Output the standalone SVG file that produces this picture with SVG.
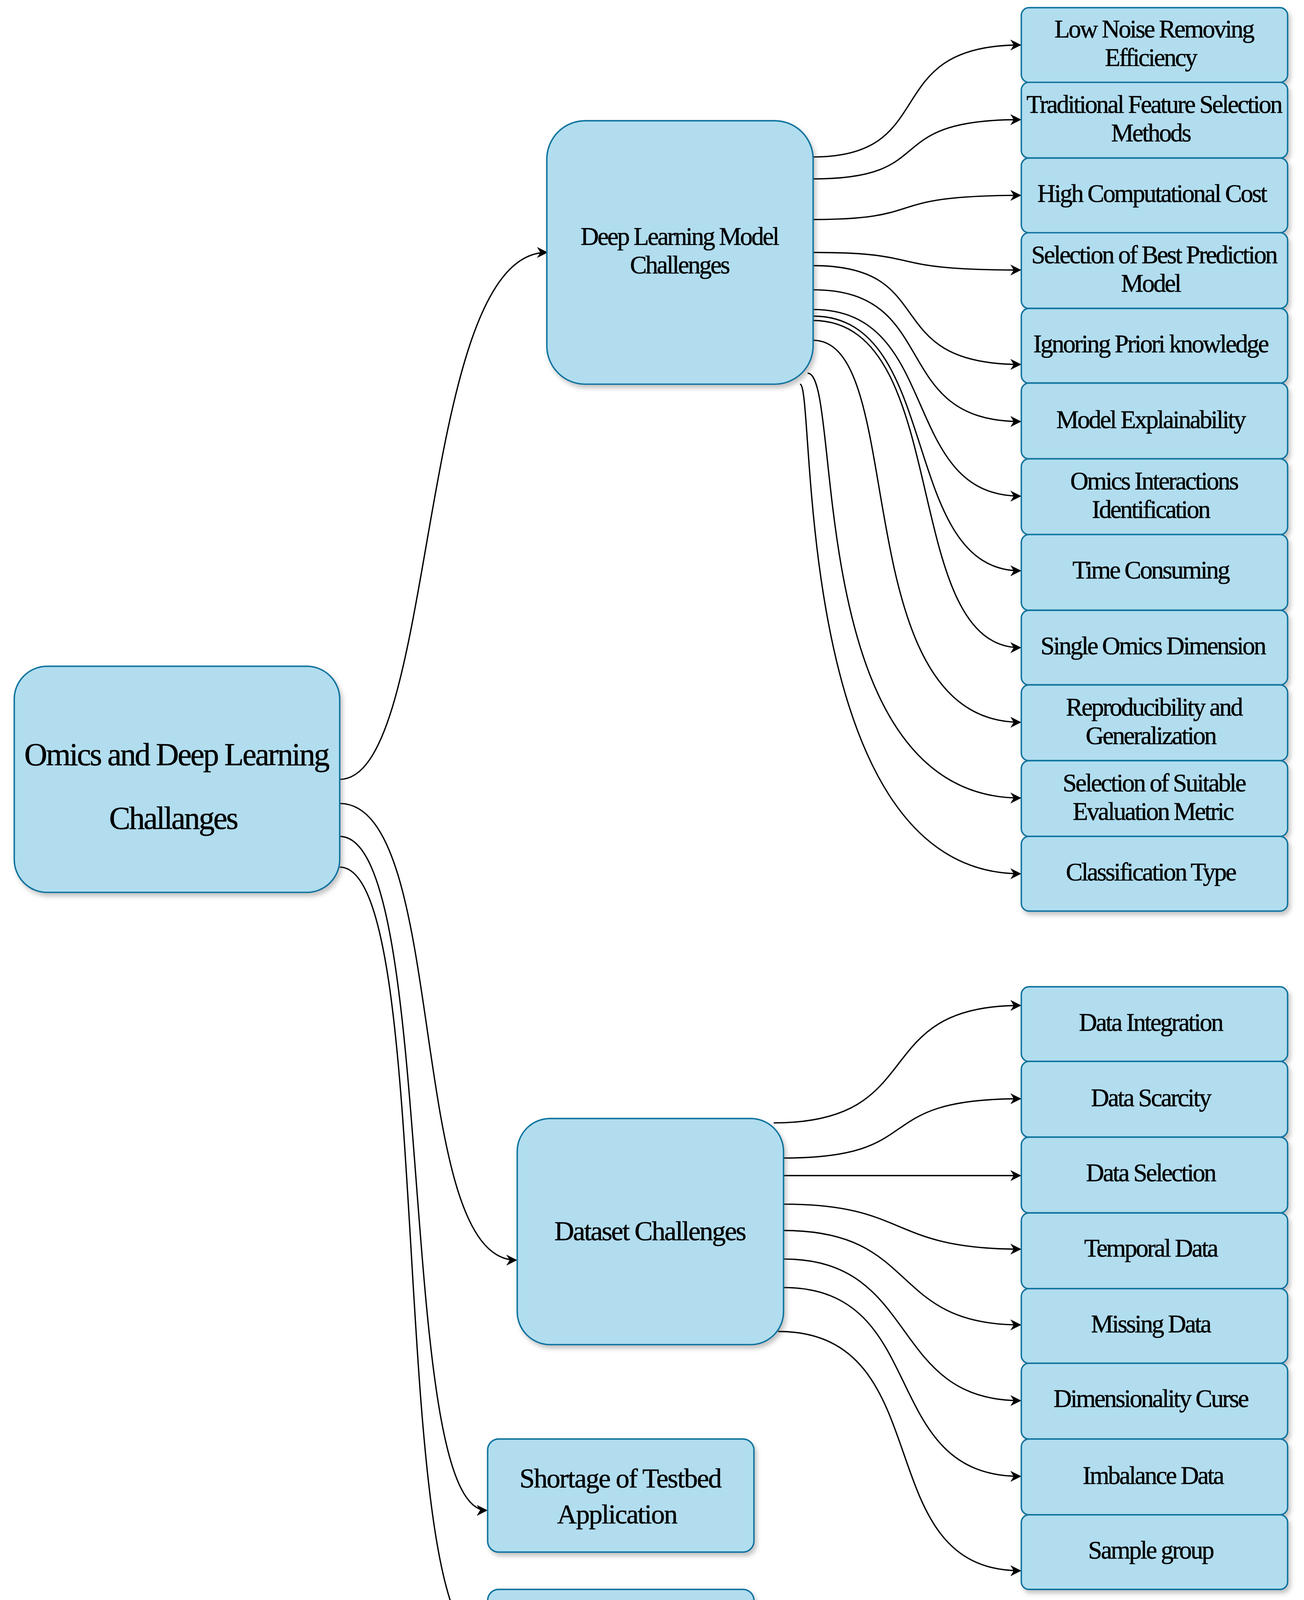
<svg xmlns="http://www.w3.org/2000/svg" width="3339" height="4397" viewBox="0 0 3339 4397">
<style>
.b{fill:#b1ddef;stroke:#10739e;stroke-width:1.3;filter:url(#sh)}
.t{font-family:"Liberation Serif",serif;fill:#000;stroke:#000;stroke-width:0.25;text-anchor:middle;letter-spacing:-1.2px;font-size:23px}
.c{fill:none;stroke:#000;stroke-width:1.2;marker-end:url(#a)}
</style>
<defs>
<filter id="sh" x="-10%" y="-10%" width="130%" height="130%"><feDropShadow dx="2" dy="3" stdDeviation="2" flood-color="#555" flood-opacity="0.35"/></filter>
<marker id="a" markerWidth="10" markerHeight="10" refX="9" refY="5" orient="auto" markerUnits="userSpaceOnUse"><path d="M0,0 L10,5 L0,10 L3,5 Z" fill="#000"/></marker>
</defs>
<rect width="3339" height="4397" fill="#fff"/>
<g transform="scale(2.806 2.81)">
<g id="connectors">
<path class="c" d="M310 710 C400 710 380 230 499 230"/>
<path class="c" d="M310 732 C410 732 370 1148 471 1148"/>
<path class="c" d="M310 762 C400 762 360 1376 444 1376"/>
<path class="c" d="M310 790 C400 790 350 1500 444 1500"/>
<path class="c" d="M742 143 C860 143 800 41 931 41"/>
<path class="c" d="M742 163 C860 163 800 109 931 109"/>
<path class="c" d="M742 200 C850 200 800 178 931 178"/>
<path class="c" d="M742 230 C850 230 800 246 931 246"/>
<path class="c" d="M742 242 C860 242 800 332 931 332"/>
<path class="c" d="M742 264 C860 264 810 384 931 384"/>
<path class="c" d="M742 282 C860 282 820 452 931 452"/>
<path class="c" d="M742 288 C860 288 820 520 931 520"/>
<path class="c" d="M742 292 C870 292 820 590 931 590"/>
<path class="c" d="M742 310 C830 310 770 658 931 658"/>
<path class="c" d="M737 340 C770 340 730 727 931 727"/>
<path class="c" d="M730 350 C745 350 720 796 931 796"/>
<path class="c" d="M706 1023 C850 1023 790 916 931 916"/>
<path class="c" d="M715 1055 C850 1055 790 1001 931 1001"/>
<path class="c" d="M715 1071 L931 1071"/>
<path class="c" d="M715 1097 C830 1097 810 1138 931 1138"/>
<path class="c" d="M715 1121 C840 1121 810 1207 931 1207"/>
<path class="c" d="M715 1147 C840 1147 810 1276 931 1276"/>
<path class="c" d="M715 1173 C850 1173 800 1345 931 1345"/>
<path class="c" d="M710 1213 C860 1213 790 1431 931 1431"/>
</g>
<g id="main"><rect class="b" x="13" y="607" width="297" height="206" rx="30"/><text class="t" style="font-size:29px;letter-spacing:-1.2px" x="161" y="697">Omics and Deep Learning</text><text class="t" style="font-size:29px;letter-spacing:-1.2px" x="158" y="755">Challanges</text></g>
<g id="dl"><rect class="b" x="499" y="110" width="243" height="240" rx="35"/><text class="t" x="620" y="223">Deep Learning Model</text><text class="t" x="620" y="249">Challenges</text></g>
<g id="ds"><rect class="b" x="472" y="1019" width="243" height="206" rx="30"/><text class="t" style="font-size:25px;letter-spacing:-1px" x="593" y="1130">Dataset Challenges</text></g>
<g id="shortage"><rect class="b" x="445" y="1311" width="243" height="103" rx="10"/><text class="t" style="font-size:25px;letter-spacing:-0.8px" x="566" y="1355">Shortage of Testbed</text><text class="t" style="font-size:25px;letter-spacing:-0.8px" x="563" y="1388">Application</text></g>
<g id="lack"><rect class="b" x="445" y="1448" width="243" height="104" rx="10"/><text class="t" style="font-size:25px;letter-spacing:-0.8px" x="566" y="1492">Lack of Outcomes</text><text class="t" style="font-size:25px;letter-spacing:-0.8px" x="566" y="1524">Validation</text></g>
<g id="r1"><rect class="b" x="932" y="7" width="243" height="68" rx="7"/><text class="t" x="1053" y="34">Low Noise Removing</text><text class="t" x="1050" y="60">Efficiency</text></g>
<g id="r2"><rect class="b" x="932" y="75" width="243" height="69" rx="7"/><text class="t" x="1053" y="103">Traditional Feature Selection</text><text class="t" x="1050" y="129">Methods</text></g>
<g id="r3"><rect class="b" x="932" y="144" width="243" height="68" rx="7"/><text class="t" x="1051" y="184">High Computational Cost</text></g>
<g id="r4"><rect class="b" x="932" y="212" width="243" height="69" rx="7"/><text class="t" x="1053" y="240">Selection of Best Prediction</text><text class="t" x="1050" y="266">Model</text></g>
<g id="r5"><rect class="b" x="932" y="281" width="243" height="68" rx="7"/><text class="t" x="1050" y="321">Ignoring Priori knowledge</text></g>
<g id="r6"><rect class="b" x="932" y="349" width="243" height="69" rx="7"/><text class="t" x="1050" y="390">Model Explainability</text></g>
<g id="r7"><rect class="b" x="932" y="418" width="243" height="69" rx="7"/><text class="t" x="1053" y="446">Omics Interactions</text><text class="t" x="1050" y="472">Identification</text></g>
<g id="r8"><rect class="b" x="932" y="487" width="243" height="69" rx="7"/><text class="t" x="1050" y="527">Time Consuming</text></g>
<g id="r9"><rect class="b" x="932" y="556" width="243" height="68" rx="7"/><text class="t" x="1052" y="596">Single Omics Dimension</text></g>
<g id="r10"><rect class="b" x="932" y="624" width="243" height="69" rx="7"/><text class="t" x="1053" y="652">Reproducibility and</text><text class="t" x="1050" y="678">Generalization</text></g>
<g id="r11"><rect class="b" x="932" y="693" width="243" height="69" rx="7"/><text class="t" x="1053" y="721">Selection of Suitable</text><text class="t" x="1052" y="747">Evaluation Metric</text></g>
<g id="r12"><rect class="b" x="932" y="762" width="243" height="68" rx="7"/><text class="t" x="1050" y="802">Classification Type</text></g>
<g id="d1"><rect class="b" x="932" y="899" width="243" height="68" rx="7"/><text class="t" x="1050" y="939">Data Integration</text></g>
<g id="d2"><rect class="b" x="932" y="967" width="243" height="69" rx="7"/><text class="t" x="1050" y="1008">Data Scarcity</text></g>
<g id="d3"><rect class="b" x="932" y="1036" width="243" height="69" rx="7"/><text class="t" x="1050" y="1076">Data Selection</text></g>
<g id="d4"><rect class="b" x="932" y="1105" width="243" height="69" rx="7"/><text class="t" x="1050" y="1145">Temporal Data</text></g>
<g id="d5"><rect class="b" x="932" y="1174" width="243" height="68" rx="7"/><text class="t" x="1050" y="1214">Missing Data</text></g>
<g id="d6"><rect class="b" x="932" y="1242" width="243" height="69" rx="7"/><text class="t" x="1050" y="1282">Dimensionality Curse</text></g>
<g id="d7"><rect class="b" x="932" y="1311" width="243" height="69" rx="7"/><text class="t" x="1052" y="1352">Imbalance Data</text></g>
<g id="d8"><rect class="b" x="932" y="1380" width="243" height="68" rx="7"/><text class="t" x="1050" y="1420">Sample group</text></g>
</g>
</svg>
